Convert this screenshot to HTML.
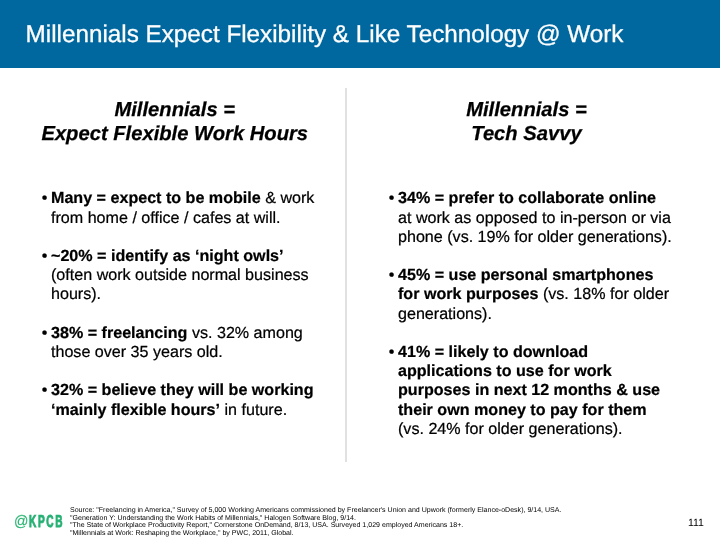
<!DOCTYPE html>
<html><head><meta charset="utf-8">
<style>
*{margin:0;padding:0;box-sizing:border-box}
html,body{width:720px;height:540px;overflow:hidden;background:#fff}
body{position:relative;text-rendering:geometricPrecision;font-family:"Liberation Sans",Arial,Helvetica,sans-serif;color:#000}
.hdr{position:absolute;left:0;top:0;width:720px;height:68px;background:#00689f}
.title{position:absolute;left:25.6px;top:21.1px;-webkit-text-stroke:.3px #fff;font-size:24.25px;line-height:28px;color:#fff;white-space:nowrap}
.h{position:absolute;-webkit-text-stroke:.25px #000;font-weight:bold;font-style:italic;font-size:20.2px;line-height:24.6px;text-align:center;white-space:nowrap}
.div{position:absolute;left:345px;top:88px;width:2px;height:374px;background:#e1e1e1}
.b{position:absolute;-webkit-text-stroke:.22px #000;font-size:16.1px;line-height:19.2px;white-space:nowrap}
.b i{position:absolute;margin-left:-9.3px;font-style:normal}
.src{position:absolute;left:70px;top:507px;font-size:7.05px;line-height:7.5px;white-space:nowrap}
.pn{position:absolute;left:688px;top:516.5px;font-size:10.5px;line-height:12px}
</style></head><body>
<div class="hdr"></div>
<div class="title">Millennials Expect Flexibility &amp; Like Technology @ Work</div>
<div class="h" style="left:24.75px;width:300px;top:97.7px">Millennials =<br>Expect Flexible Work Hours</div>
<div class="h" style="left:376.5px;width:300px;top:97.7px">Millennials =<br>Tech Savvy</div>
<div class="div"></div>

<div class="b" style="left:51px;top:189.4px"><i>•</i><b>Many = expect to be mobile</b> &amp; work<br>from home / office / cafes at will.<br><br><i>•</i><b>~20% = identify as ‘night owls’</b><br>(often work outside normal business<br>hours).<br><br><i>•</i><b>38% = freelancing</b> vs. 32% among<br>those over 35 years old.<br><br><i>•</i><b>32% = believe they will be working<br>‘mainly flexible hours’</b> in future.</div>

<div class="b" style="left:398px;top:189.3px"><i>•</i><b>34% = prefer to collaborate online</b><br>at work as opposed to in-person or via<br>phone (vs. 19% for older generations).<br><br><i>•</i><b>45% = use personal smartphones<br>for work purposes</b> (vs. 18% for older<br>generations).<br><br><i>•</i><b>41% = likely to download<br>applications to use for work<br>purposes in next 12 months &amp; use<br>their own money to pay for them</b><br>(vs. 24% for older generations).</div>

<svg class="lg" width="80" height="40" viewBox="0 0 80 40" style="position:absolute;left:0;top:500px;overflow:visible">
<text transform="translate(14.06,26.1) scale(.93,1)" font-family="Liberation Sans, Arial, sans-serif" font-size="15.3" fill="#2bb673" stroke="#2bb673" stroke-width=".15">@</text>
<text transform="scale(.585,1)" x="49.7 65.08 79.1 94.65" y="27.45" font-family="Liberation Sans, Arial, sans-serif" font-weight="bold" font-size="17.3" fill="#27b074" stroke="#27b074" stroke-width=".9" stroke-linejoin="miter" style="vector-effect:non-scaling-stroke">KPCB</text>
</svg>
<div class="src">Source: "Freelancing in America," Survey of 5,000 Working Americans commissioned by Freelancer's Union and Upwork (formerly Elance-oDesk), 9/14, USA.<br>"Generation Y: Understanding the Work Habits of Millennials," Halogen Software Blog, 9/14.<br>"The State of Workplace Productivity Report," Cornerstone OnDemand, 8/13, USA. Surveyed 1,029 employed Americans 18+.<br>"Millennials at Work: Reshaping the Workplace," by PWC, 2011, Global.</div>
<div class="pn">111</div>
</body></html>
